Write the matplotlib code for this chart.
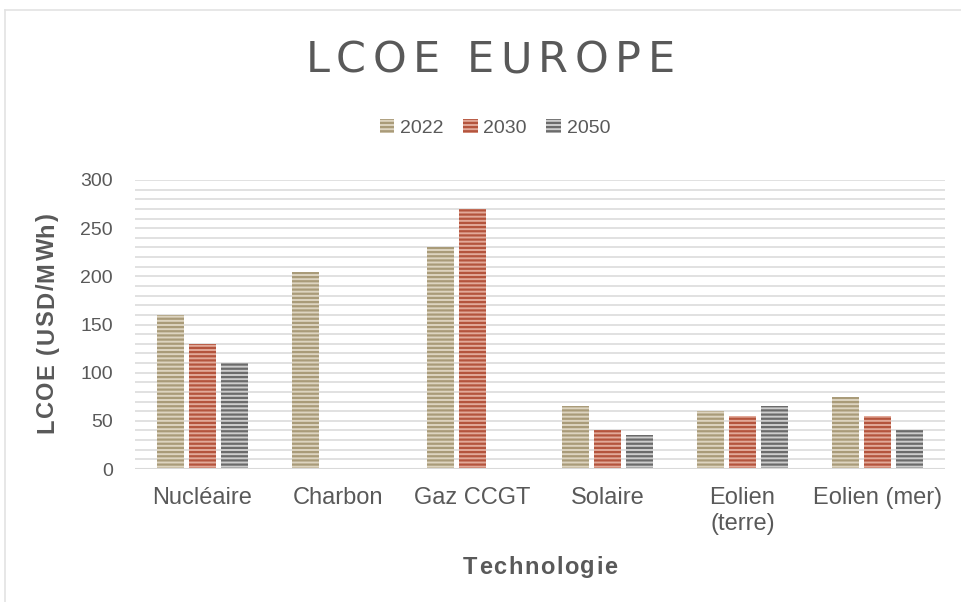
import matplotlib
matplotlib.use("Agg")
import matplotlib.pyplot as plt
from matplotlib.patches import Patch
from matplotlib.lines import Line2D
import numpy as np

categories = ["Nucléaire", "Charbon", "Gaz CCGT", "Solaire", "Eolien\n(terre)", "Eolien (mer)"]
series_names = ["2022", "2030", "2050"]
v2022 = [160, 205, 230, 65, 60, 75]
v2030 = [130, np.nan, 270, 40, 55, 55]
v2050 = [110, np.nan, np.nan, 35, 65, 40]
yticks = [0, 50, 100, 150, 200, 250, 300]

face_colors = ["#ddd4c0", "#e2a999", "#cdcdcd"]
stripe_colors = ["#a99b79", "#b4543d", "#6b6b6b"]
text_color = "#595959"

plt.rcParams["font.family"] = ["Liberation Sans", "DejaVu Sans"]
plt.rcParams["hatch.linewidth"] = 1.6

W, H = 961, 602
fig = plt.figure(figsize=(W / 100, H / 100), dpi=100)
ax = fig.add_axes([135 / W, 1 - 469 / H, 810 / W, 289 / H])

x = np.arange(len(categories))
width = 0.2
offset = 0.237
series = [v2022, v2030, v2050]
for i, (name, vals) in enumerate(zip(series_names, series)):
    ax.bar(x + (i - 1) * offset, vals, width, color=face_colors[i],
           edgecolor=stripe_colors[i], hatch="----", linewidth=0, zorder=3, label=name)

ax.set_xlim(-0.5, len(categories) - 0.5)
ax.set_ylim(0, 300)
ax.set_yticks(yticks)
ax.set_yticks(np.arange(0, 301, 10), minor=True)
ax.grid(axis="y", which="both", color="#d9d9d9", linewidth=1.1, zorder=0)
ax.set_axisbelow(True)
ax.axhline(0, color="#d9d9d9", linewidth=2.2, zorder=4)
for s in ax.spines.values():
    s.set_visible(False)
ax.tick_params(axis="both", which="both", length=0)
ax.tick_params(axis="y", pad=16, labelsize=14, labelcolor=text_color)
ax.set_xticks(x)
ax.set_xticklabels(categories, fontsize=17, color=text_color, linespacing=1.25)
ax.tick_params(axis="x", pad=13)


def spaced(s, xc, yc, spacing, cap, rotation=0, **kw):
    """Draw letter-spaced text centred at pixel (xc, yc); cap = cap height in px."""
    renderer = fig.canvas.get_renderer()
    widths = []
    for ch in s:
        if ch == " ":
            t1 = fig.text(0, 0, "a a", **kw); t2 = fig.text(0, 0, "aa", **kw)
            w = t1.get_window_extent(renderer).width - t2.get_window_extent(renderer).width
            t1.remove(); t2.remove()
        else:
            t = fig.text(0, 0, ch, **kw)
            w = t.get_window_extent(renderer).width
            t.remove()
        widths.append(w)
    total = sum(widths) + spacing * (len(s) - 1)
    pos = -total / 2
    for ch, w in zip(s, widths):
        if ch != " ":
            if rotation == 0:
                fig.text((xc + pos) / W, 1 - (yc + cap / 2) / H, ch, ha="left",
                         va="baseline", **kw)
            else:
                fig.text((xc + cap / 2) / W, 1 - (yc - pos) / H, ch, ha="left",
                         va="baseline", rotation=90, rotation_mode="anchor", **kw)
        pos += w + spacing


# Title
spaced("LCOE EUROPE", 490, 57, 6.5, 31, fontsize=31, color=text_color,
       family=["DejaVu Sans"])

# Axis titles
spaced("LCOE (USD/MWh)", 45, 323, 1.5, 17, rotation=90, fontsize=17, fontweight="bold",
       color=text_color)
spaced("Technologie", 540, 565, 1.5, 17, fontsize=17, fontweight="bold", color=text_color)

handles = [Patch(facecolor=face_colors[i], edgecolor=stripe_colors[i], hatch="----",
                 linewidth=0, label=series_names[i]) for i in range(3)]
leg = fig.legend(handles=handles, loc="center", bbox_to_anchor=(495 / W, 1 - 128 / H),
                 ncol=3, frameon=False, fontsize=14, handlelength=0.75, handleheight=0.75,
                 handletextpad=0.3, columnspacing=1.0, labelcolor=text_color)

# light frame (left and top edges)
fig.add_artist(Line2D([5 / W, 5 / W], [1 - 10 / H, 0], color="#e3e3e3", linewidth=1.2))
fig.add_artist(Line2D([5 / W, 1], [1 - 10 / H, 1 - 10 / H], color="#e3e3e3", linewidth=1.2))

fig.savefig("out.png", dpi=100, facecolor="white")
